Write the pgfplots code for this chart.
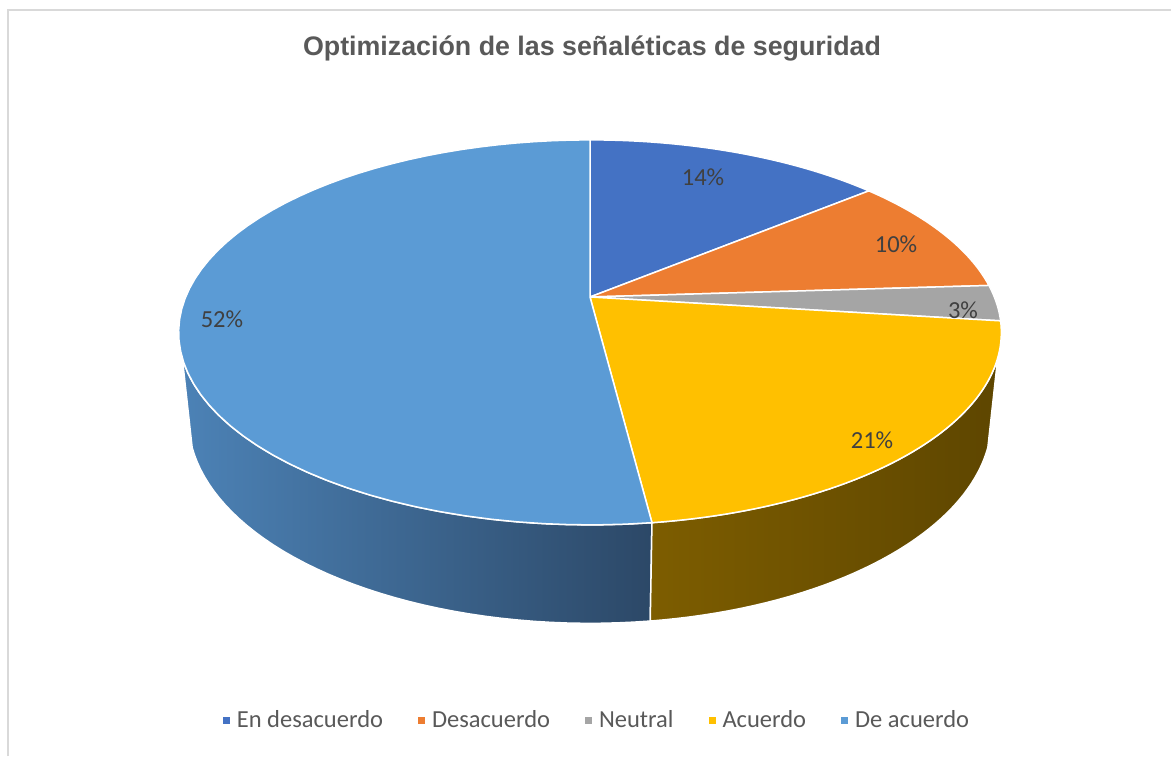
\documentclass[border=0pt]{standalone}
\usepackage{pgfplots}
\pgfplotsset{compat=1.18}
\usepackage{fontspec}
\setmainfont{Carlito}
\newfontfamily\titlefont{Liberation Sans}
\definecolor{cA}{HTML}{4472C4}
\definecolor{cB}{HTML}{ED7D31}
\definecolor{cC}{HTML}{A5A5A5}
\definecolor{cD}{HTML}{FFC000}
\definecolor{cE}{HTML}{5B9BD5}
\definecolor{wDl}{HTML}{7D5D00}
\definecolor{wDm}{HTML}{6D5100}
\definecolor{wDr}{HTML}{5E4600}
\definecolor{wEl}{HTML}{4C82B6}
\definecolor{wEm}{HTML}{4272A0}
\definecolor{wEr}{HTML}{2C4867}
\definecolor{txt}{HTML}{595959}
\definecolor{lbl}{HTML}{404040}
\definecolor{frame}{HTML}{D9D9D9}
% data (percent)
\def\vA{14}\def\vB{10}\def\vC{3}\def\vD{21}\def\vE{52}
\pgfmathsetmacro\aA{0}
\pgfmathsetmacro\aB{3.6*\vA}
\pgfmathsetmacro\aC{\aB+3.6*\vB}
\pgfmathsetmacro\aD{\aC+3.6*\vC}
\pgfmathsetmacro\aE{\aD+3.6*\vD}
\pgfmathsetmacro\aF{\aE+3.6*\vE}
\begin{document}
\begin{tikzpicture}
\begin{axis}[
  x=1pt, y=1pt, xmin=0, xmax=1171, ymin=0, ymax=756,
  hide axis, clip=false,
  declare function={
    PU(\th,\zz,\rr) = 590 + 1953*\rr*sin(\th)/(4.83 + 0.888*\rr*cos(\th) - 0.46*\zz);
    PV(\th,\zz,\rr) = 459 + 1953*(0.46*\rr*cos(\th) + 0.888*\zz)/(4.83 + 0.888*\rr*cos(\th) - 0.46*\zz);
    WT(\k,\p,\q) = (\k<=40)*(\p+(\q-\p)*\k/40) + (\k>40)*(\q-(\q-\p)*(\k-41)/40);
    WZ(\k) = -0.245*(\k>40);
    ST(\k,\p,\q) = \p+(\q-\p)*min(\k,60)/60;
    SR(\k) = (\k<61);
  },
  legend columns=5,
  legend style={at={(0.5098,0.0476)}, anchor=center, draw=none, fill=none,
    font=\fontsize{24.5}{29}\selectfont, text=txt,
    /tikz/every even column/.append style={column sep=33pt},
    /tikz/every odd column/.append style={column sep=5pt}},
  legend image code/.code={\fill[#1,draw=none] (0pt,-3.5pt) rectangle (7pt,3.5pt);},
]
% side walls (visible front part)
\addplot[forget plot, draw=white, line width=1.5pt,
  left color=wEl, middle color=wEm, right color=wEr, samples at={0,...,81}]
  ({PU(WT(x,\aE,252),WZ(x),1)},{PV(WT(x,\aE,252),WZ(x),1)}) -- cycle;
\addplot[forget plot, draw=white, line width=1.5pt,
  left color=wDl, middle color=wDm, right color=wDr, samples at={0,...,81}]
  ({PU(WT(x,108,\aE),WZ(x),1)},{PV(WT(x,108,\aE),WZ(x),1)}) -- cycle;
% top faces
\addplot[fill=cA, draw=white, line width=1.5pt, samples at={0,...,61}]
  ({PU(ST(x,\aA,\aB),0,SR(x))},{PV(ST(x,\aA,\aB),0,SR(x))}) -- cycle;
\addlegendentry{En desacuerdo}
\addplot[fill=cB, draw=white, line width=1.5pt, samples at={0,...,61}]
  ({PU(ST(x,\aB,\aC),0,SR(x))},{PV(ST(x,\aB,\aC),0,SR(x))}) -- cycle;
\addlegendentry{Desacuerdo}
\addplot[fill=cC, draw=white, line width=1.5pt, samples at={0,...,61}]
  ({PU(ST(x,\aC,\aD),0,SR(x))},{PV(ST(x,\aC,\aD),0,SR(x))}) -- cycle;
\addlegendentry{Neutral}
\addplot[fill=cD, draw=white, line width=1.5pt, samples at={0,...,61}]
  ({PU(ST(x,\aD,\aE),0,SR(x))},{PV(ST(x,\aD,\aE),0,SR(x))}) -- cycle;
\addlegendentry{Acuerdo}
\addplot[fill=cE, draw=white, line width=1.5pt, samples at={0,...,61}]
  ({PU(ST(x,\aE,\aF),0,SR(x))},{PV(ST(x,\aE,\aF),0,SR(x))}) -- cycle;
\addlegendentry{De acuerdo}
% data labels
\begin{scope}[font=\fontsize{24.5}{29}\selectfont, text=lbl]
\node at (axis cs:703,579) {\vA\%};
\node at (axis cs:896,512) {\vB\%};
\node at (axis cs:963,446) {\vC\%};
\node at (axis cs:872,316) {\vD\%};
\node at (axis cs:222,437) {\vE\%};
\end{scope}
% title
\node[anchor=base, text=txt, font=\titlefont\bfseries\fontsize{26.8}{31}\selectfont]
  at (axis cs:592,700) {Optimización de las señaléticas de seguridad};
% chart frame
\draw[frame, line width=2pt] (axis cs:7.5,0) -- (axis cs:7.5,745.5) -- (axis cs:1171,745.5);
\end{axis}
\pgfresetboundingbox
\path[use as bounding box] (current axis.south west) rectangle (current axis.north east);
\end{tikzpicture}
\end{document}
